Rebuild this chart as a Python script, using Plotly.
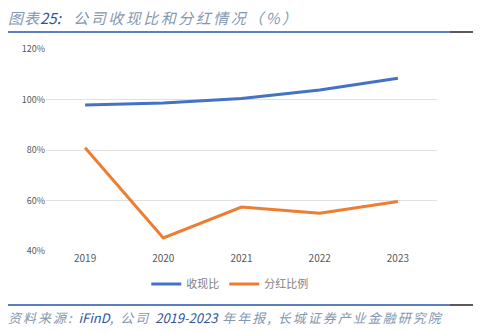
import plotly.graph_objects as go

years = ["2019", "2020", "2021", "2022", "2023"]
cash_ratio = [97.8, 98.6, 100.4, 103.8, 108.4]
dividend_ratio = [80.9, 45.2, 57.4, 55.0, 59.6]
y_ticks = [40, 60, 80, 100, 120]
y_tick_labels = ["40%", "60%", "80%", "100%", "120%"]

fig = go.Figure()
fig.add_trace(go.Scatter(x=years, y=cash_ratio, mode="lines", name="收现比",
                         line=dict(color="#4472C4", width=3)))
fig.add_trace(go.Scatter(x=years, y=dividend_ratio, mode="lines", name="分红比例",
                         line=dict(color="#ED7D31", width=3)))

font_family = "Noto Sans CJK SC, Noto Sans, sans-serif"

fig.update_layout(
    width=485, height=332,
    margin=dict(l=46, r=48, t=49, b=81),
    paper_bgcolor="white", plot_bgcolor="white",
    font=dict(family=font_family, size=10, color="#595959"),
    showlegend=True,
    legend=dict(orientation="h", x=0.47, xanchor="center", y=-(284 - 251) / 202, yanchor="middle",
                font=dict(size=11, color="#7F7F7F"),
                traceorder="normal"),
    xaxis=dict(type="category", showgrid=False, showline=False, ticks="",
               tickfont=dict(size=10, color="#595959"), range=[-0.5, 4.5]),
    yaxis=dict(range=[40, 120], tickvals=y_ticks, ticktext=y_tick_labels,
               showgrid=True, gridcolor="#E0E0E0", gridwidth=1, zeroline=False,
               showline=False, ticks="", tickfont=dict(size=9, color="#595959")),
)

# Title and source text (letter-spacing widened like the original)
fig.add_annotation(
    xref="paper", yref="paper", x=-40/391, y=1 + (49 - 17) / 202, xanchor="left", yanchor="middle",
    text="<i><span style='letter-spacing:1px'>图表</span><span style='color:#2F5597'>25:</span>"
         "<span style='letter-spacing:9px'> </span>"
         "<span style='letter-spacing:2.5px'>公司收现比和分红情况（%）</span></i>",
    showarrow=False, font=dict(size=15, color="#8497B0", family=font_family))
fig.add_annotation(
    xref="paper", yref="paper", x=-40/391, y=-(317 - 251) / 202, xanchor="left", yanchor="middle",
    text="<i><span style='letter-spacing:2px'>资料来源: </span><span style='color:#2F5597'>iFinD</span>"
         "<span style='letter-spacing:2px'>, 公司 </span><span style='color:#2F5597'>2019-2023</span>"
         "<span style='letter-spacing:2px'> 年年报, 长城证券产业金融研究院</span></i>",
    showarrow=False, font=dict(size=13, color="#8497B0", family=font_family))

# Separator lines
ly_top = 1 + (49 - 32) / 202
ly_bot = -(305 - 251) / 202
for yy in (ly_top, ly_bot):
    fig.add_shape(type="line", xref="paper", yref="paper",
                  x0=-38/391, x1=(450 - 46) / 391, y0=yy, y1=yy,
                  line=dict(color="#5B7FBF", width=2))
    fig.add_shape(type="line", xref="paper", yref="paper",
                  x0=(450 - 46) / 391, x1=(473 - 46) / 391, y0=yy, y1=yy,
                  line=dict(color="#595959", width=2))

fig.write_html("out.html")
